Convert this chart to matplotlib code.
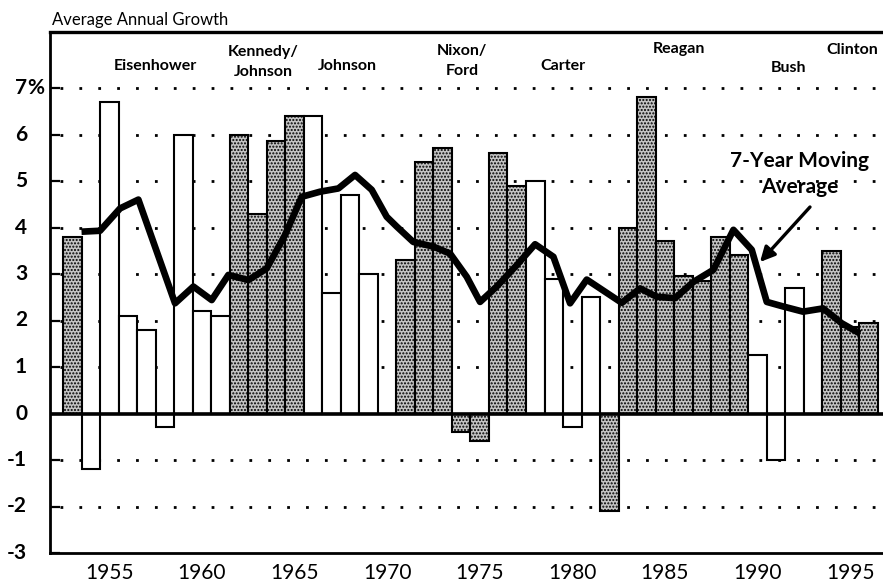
import matplotlib
matplotlib.use("Agg")
import matplotlib.pyplot as plt
from matplotlib.patches import FancyArrowPatch

plt.rcParams['font.family'] = ['Lato', 'DejaVu Sans']
plt.rcParams['hatch.color'] = '#333333'
plt.rcParams['hatch.linewidth'] = 1.0

# ---- data ----
years = list(range(1953, 1997))
growth = [3.8, -1.2, 6.7, 2.1, 1.8, -0.3, 6.0, 2.2, 2.1, 6.0,
          4.3, 5.85, 6.4, 6.4, 2.6, 4.7, 3.0, 0.0, 3.3, 5.4,
          5.7, -0.4, -0.6, 5.6, 4.9, 5.0, 2.9, -0.3, 2.5, -2.1,
          4.0, 6.8, 3.7, 2.95, 2.85, 3.8, 3.4, 1.25, -1.0, 2.7,
          2.2, 3.5, 1.85, 1.95]
shaded = [1, 0, 0, 0, 0, 0, 0, 0, 0, 1,
          1, 1, 1, 0, 0, 0, 0, 0, 1, 1,
          1, 1, 1, 1, 1, 0, 0, 0, 0, 1,
          1, 1, 1, 1, 1, 1, 1, 0, 0, 0,
          0, 1, 1, 1]

ma_x = [1953.5, 1954.5, 1955.58, 1956.57, 1958.55, 1959.54, 1960.53, 1961.43,
        1962.51, 1963.5, 1964.49, 1965.39, 1966.38, 1967.37, 1968.27, 1969.17,
        1969.98, 1970.52, 1971.41, 1972.49, 1973.4, 1974.3, 1975.02, 1975.92,
        1977.0, 1977.99, 1978.98, 1979.88, 1980.78, 1982.67, 1983.66, 1984.56,
        1985.55, 1986.54, 1987.62, 1988.7, 1989.69, 1990.5, 1991.4, 1992.46,
        1993.54, 1994.55, 1995.53]
ma_y = [3.91, 3.93, 4.41, 4.6, 2.37, 2.73, 2.44, 2.98,
        2.87, 3.12, 3.84, 4.66, 4.77, 4.84, 5.13, 4.81,
        4.23, 4.02, 3.69, 3.59, 3.44, 2.94, 2.4, 2.73,
        3.19, 3.64, 3.37, 2.37, 2.88, 2.38, 2.69, 2.51,
        2.48, 2.83, 3.09, 3.95, 3.52, 2.4, 2.3, 2.19,
        2.26, 1.94, 1.72]

y_ticks = [7, 6, 5, 4, 3, 2, 1, 0, -1, -2, -3]
y_labels = ['7', '6', '5', '4', '3', '2', '1', '0', '-1', '-2', '-3']
x_ticks = [1955, 1960, 1965, 1970, 1975, 1980, 1985, 1990, 1995]
grid_levels = [7, 6, 5, 4, 3, 2, 1, -1, -2]

presidents = ['Eisenhower', 'Kennedy/\nJohnson', 'Johnson', 'Nixon/\nFord',
              'Carter', 'Reagan', 'Bush', 'Clinton']
pres_px = [(155, 66), (263, 62), (347, 66), (462, 61),
           (563, 66), (679, 49), (789, 68), (852, 50)]

# ---- layout ----
W, H = 883, 586
fig = plt.figure(figsize=(W / 100, H / 100), dpi=100)
ax_left, ax_right, ax_top, ax_bot = 50, 883, 32, 553
ax = fig.add_axes([ax_left / W, (H - ax_bot) / H,
                   (ax_right - ax_left) / W, (ax_bot - ax_top) / H])

px_per_year = 18.52
x0_px = 72.26      # centre of first bar in pixels
zero_px = 413.5
px_per_unit = 46.5


def px2x(px):
    return years[0] + (px - x0_px) / px_per_year


def px2y(py):
    return (zero_px - py) / px_per_unit


ax.set_xlim(px2x(ax_left), px2x(ax_right))
ax.set_ylim(px2y(ax_bot), px2y(ax_top))

# grid
for g in grid_levels:
    ax.axhline(g, xmin=10 / (ax_right - ax_left), xmax=1, color='black',
               lw=2.0, linestyle=(0, (1.0, 5.8)), zorder=1)

# bars
bars = ax.bar(years, growth, width=1.0, color='white', edgecolor='black',
              linewidth=1.5, zorder=2)
for b, s in zip(bars, shaded):
    if s:
        b.set_facecolor('#c4c4c4')
        b.set_hatch('.....')

ax.axhline(0, color='black', lw=2.6, zorder=3)

# moving average
ax.plot(ma_x, ma_y, color='black', lw=4.8, solid_joinstyle='round',
        solid_capstyle='butt', zorder=4)

# spines
for s in ['left', 'bottom', 'top']:
    ax.spines[s].set_linewidth(2.0)
ax.spines['top'].set_linewidth(2.4)
ax.spines['right'].set_visible(False)

# ticks
ax.set_xticks(x_ticks)
ax.set_xticklabels([str(t) for t in x_ticks], fontsize=15)
ax.tick_params(axis='x', length=0, pad=7)
ax.set_yticks(y_ticks)
ax.set_yticklabels([])
ax.tick_params(axis='y', direction='in', length=7, width=1.6)

ytr = ax.get_yaxis_transform()
lab_x = (27 - ax_left) / (ax_right - ax_left)
for v, lab in zip(y_ticks, y_labels):
    ax.text(lab_x, v, lab, transform=ytr, ha='right', va='center',
            fontsize=15, fontweight='bold', clip_on=False)
ax.text(lab_x, y_ticks[0], '%', transform=ytr, ha='left', va='center',
        fontsize=15, fontweight='bold', clip_on=False)

# header
fig.text(52 / W, 1 - 20 / H, 'Average Annual Growth', ha='left', va='center',
         fontsize=12)

for name, (px, py) in zip(presidents, pres_px):
    ax.text(px2x(px), px2y(py), name, ha='center', va='center',
            fontsize=11.5, fontweight='bold', linespacing=1.55, zorder=5)

ax.text(px2x(800), px2y(174), '7-Year Moving\nAverage', ha='center',
        va='center', fontsize=15, fontweight='bold', linespacing=1.35, zorder=5)
arrow = FancyArrowPatch((px2x(810), px2y(207)), (px2x(760), px2y(262)),
                        arrowstyle='-|>', mutation_scale=22, lw=2.4,
                        color='black', shrinkA=0, shrinkB=0, zorder=5)
ax.add_patch(arrow)

fig.savefig('out.png', dpi=100)
